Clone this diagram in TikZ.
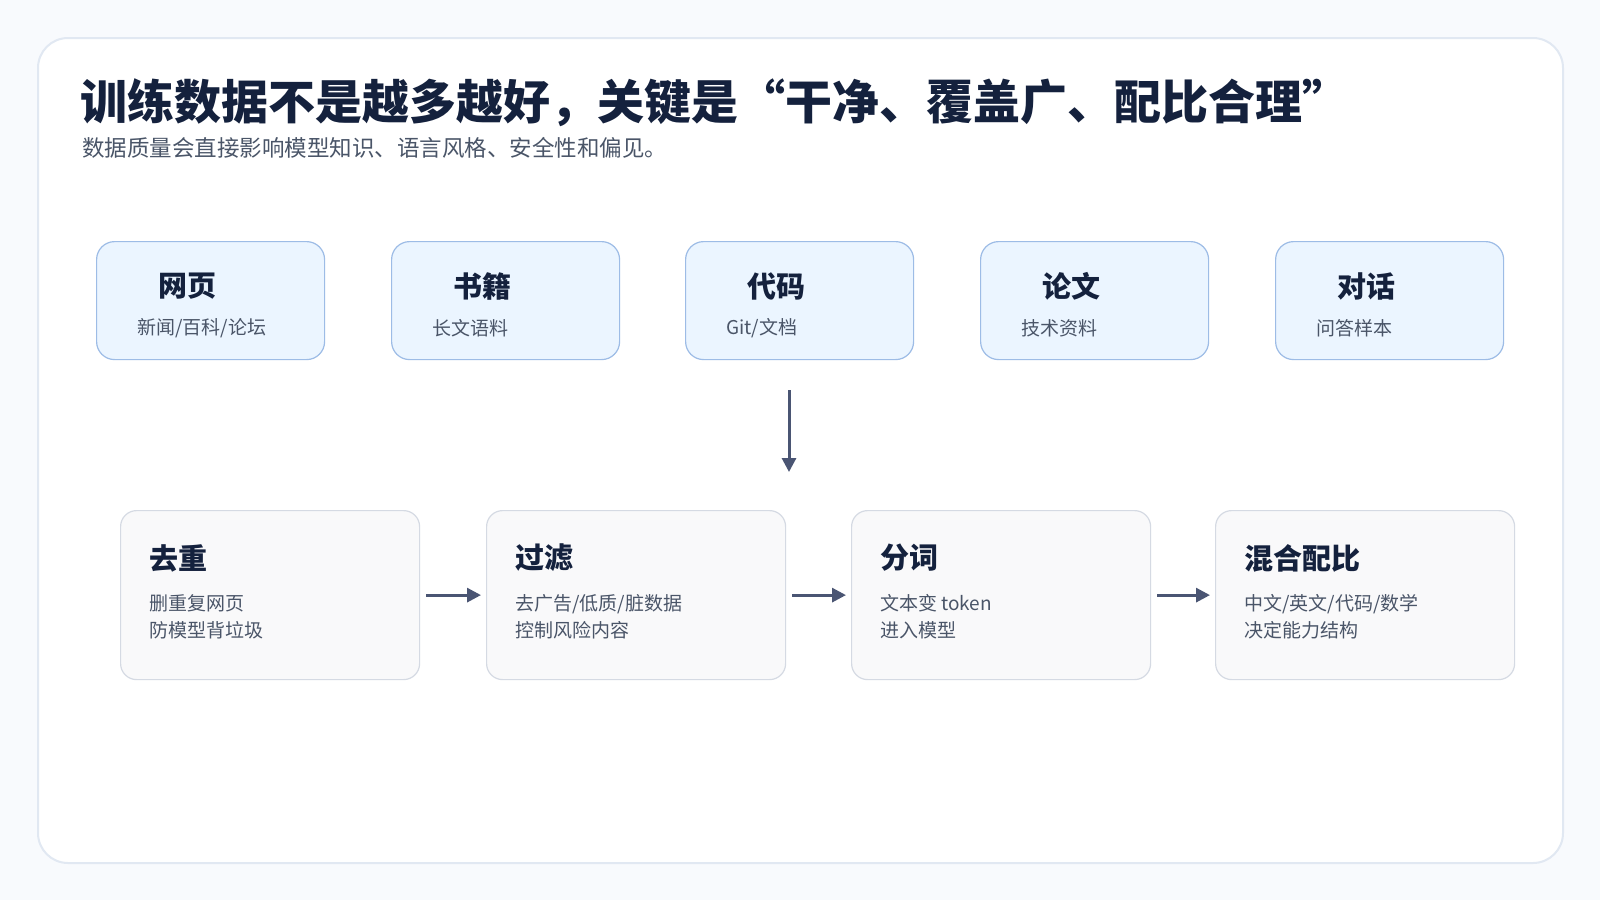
\documentclass[tikz,border=0pt]{standalone}
\usepackage{fontspec}
\setmainfont{Noto Sans CJK SC}
\usetikzlibrary{arrows.meta,positioning}
\definecolor{bgcol}{HTML}{F8FAFD}
\definecolor{cardline}{HTML}{E1E8F2}
\definecolor{srcfill}{HTML}{EBF5FF}
\definecolor{srcline}{HTML}{9DBCE6}
\definecolor{stepfill}{HTML}{F9F9FA}
\definecolor{stepline}{HTML}{D5DAE3}
\definecolor{titlecol}{HTML}{14213D}
\definecolor{subcol}{HTML}{4A5568}
\definecolor{arrowcol}{HTML}{4A5573}
\tikzset{
	srcbox/.style={draw=srcline,fill=srcfill,line width=1.2pt,rounded corners=18pt,minimum width=228pt,minimum height=118pt,inner sep=0pt},
	stepbox/.style={draw=stepline,fill=stepfill,line width=1.2pt,rounded corners=16pt,minimum width=299pt,minimum height=169pt,inner sep=0pt},
	boxtitle/.style={anchor=west,inner sep=0pt,text=titlecol,font=\fontsize{29}{34}\selectfont\bfseries},
	boxtext/.style={anchor=west,inner sep=0pt,text=subcol,font=\fontsize{19}{27}\selectfont,align=left},
	flow/.style={draw=arrowcol,line width=3pt,-{Triangle[length=14pt,width=14pt]}}
}
\begin{document}
\begin{tikzpicture}[x=1pt,y=-1pt]
	%Background and card
	\fill[bgcol] (0,0) rectangle (1600,900);
	\useasboundingbox (0,0) rectangle (1600,900);
	\draw[cardline,fill=white,line width=2pt,rounded corners=30pt] (38,38) rectangle (1563,863);
	%Heading
	\node (title) [anchor=west,inner sep=0pt,text=titlecol,font=\fontsize{47}{52}\selectfont\bfseries] at (80,103) {训练数据不是越多越好，关键是“干净、覆盖广、配比合理”};
	\node (subtitle) [anchor=west,inner sep=0pt,text=subcol,font=\fontsize{22.5}{26}\selectfont] at (82,148) {数据质量会直接影响模型知识、语言风格、安全性和偏见。};
	%Data sources
	\foreach \x/\name/\head/\sub in {96/web/网页/{新闻/百科/论坛}, 391/book/书籍/长文语料, 685/code/代码/{Git/文档}, 980/paper/论文/技术资料, 1275/chat/对话/问答样本} {
		\node (\name) [srcbox,anchor=north west] at (\x,241) {};
		\node (\name Head) [boxtitle] at ([xshift=62pt,yshift=14pt]\name.west) {\head};
		\node (\name Sub) [boxtext] at ([xshift=41pt,yshift=-28pt]\name.west) {\sub};
	}
	%Arrow down to the pipeline
	\coordinate (downTop) at (789,390);
	\coordinate (downEnd) at (789,472);
	\draw[flow] (downTop) -- (downEnd);
	%Processing steps
	\foreach \x/\name/\head/\sub in {120/dedup/去重/{删重复网页\\防模型背垃圾}, 486/filter/过滤/{去广告/低质/脏数据\\控制风险内容}, 851/token/分词/{文本变 token\\进入模型}, 1215/mix/混合配比/{中文/英文/代码/数学\\决定能力结构}} {
		\node (\name) [stepbox,anchor=north west] at (\x,510) {};
		\node (\name Head) [boxtitle] at ([xshift=29pt,yshift=37pt]\name.west) {\head};
		\node (\name Sub) [boxtext] at ([xshift=29pt,yshift=-22pt]\name.west) {\sub};
	}
	%Arrows between steps
	\draw[flow] ([xshift=6pt]dedup.east) -- ([xshift=-5pt]filter.west);
	\draw[flow] ([xshift=6pt]filter.east) -- ([xshift=-5pt]token.west);
	\draw[flow] ([xshift=6pt]token.east) -- ([xshift=-5pt]mix.west);
\end{tikzpicture}
\end{document}
